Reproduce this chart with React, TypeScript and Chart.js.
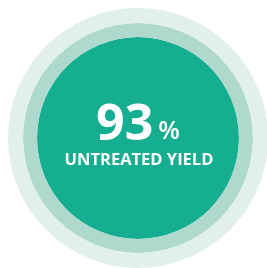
import React, { useEffect, useRef } from "react";
import { Chart, registerables } from "chart.js";

Chart.register(...registerables);

const ringLabels = ["Outer halo", "Middle ring", "Core"];
const ringValues = [100, 100, 100];
const ringWeights = [15, 14, 101];
const ringColors = ["#E1F0EB", "#AED9CC", "#16AE91"];
const yieldValue = [93];
const yieldUnit = ["%"];
const yieldCaption = ["UNTREATED YIELD"];

const centerTextPlugin = {
  id: "centerText",
  afterDraw(chart: any) {
    const { ctx, chartArea } = chart;
    const cx = (chartArea.left + chartArea.right) / 2;
    const cy = (chartArea.top + chartArea.bottom) / 2;
    ctx.save();
    ctx.fillStyle = "#FFFFFF";
    ctx.textBaseline = "alphabetic";
    const big = String(yieldValue[0]);
    ctx.font = "bold 50px 'Open Sans'";
    const bigW = ctx.measureText(big).width;
    ctx.font = "600 25px 'Open Sans'";
    const unitW = ctx.measureText(yieldUnit[0]).width;
    const gap = 5;
    const total = bigW + gap + unitW;
    const startX = cx - total / 2;
    ctx.textAlign = "left";
    ctx.font = "bold 50px 'Open Sans'";
    ctx.fillText(big, startX, cy + 2);
    ctx.font = "600 25px 'Open Sans'";
    ctx.fillText(yieldUnit[0], startX + bigW + gap, cy + 1);
    ctx.textAlign = "center";
    ctx.font = "bold 16.5px 'Open Sans'";
    ctx.fillText(yieldCaption[0], cx + 1, cy + 27);
    ctx.restore();
  },
};

export default function App() {
  const ref = useRef<HTMLCanvasElement>(null);
  useEffect(() => {
    document.body.style.margin = "0";
    document.body.style.overflow = "hidden";
    const chart = new Chart(ref.current!, {
      type: "doughnut",
      data: {
        labels: ringLabels,
        datasets: ringLabels.map((l, i) => ({
          label: l,
          data: [ringValues[i]],
          backgroundColor: [ringColors[i]],
          borderWidth: 0,
          weight: ringWeights[i],
        })),
      },
      options: {
        responsive: false,
        animation: false,
        cutout: 0,
        radius: 130,
        layout: { padding: { left: 9, top: 8, right: 0, bottom: 0 } },
        plugins: {
          legend: { display: false },
          tooltip: { enabled: false },
        },
        events: [],
      },
      plugins: [centerTextPlugin],
    } as any);
    return () => chart.destroy();
  }, []);
  return (
    <div style={{ width: 267, height: 268, background: "#fff" }}>
      <canvas ref={ref} width={267} height={268} style={{ display: "block" }} />
    </div>
  );
}
